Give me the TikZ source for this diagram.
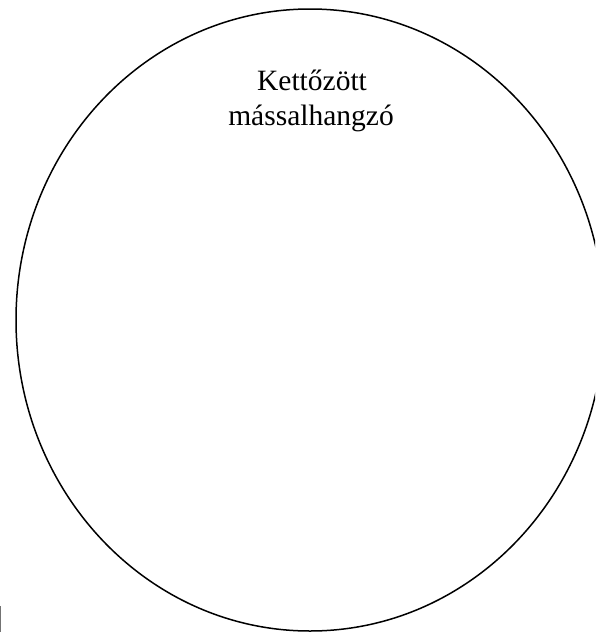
\documentclass[tikz,border=0pt]{standalone}
\usepackage{fontspec}
\setmainfont{Liberation Serif}
\begin{document}
\begin{tikzpicture}[x=1pt,y=1pt,
  outline/.style={draw=black, line width=1.5pt},
  label/.style={font=\fontsize{29.5}{35}\selectfont, inner sep=0pt, anchor=base, text=black},
  edgemark/.style={draw=black!55, line width=1.2pt}]
\useasboundingbox (0,0) rectangle (595,-632);
\begin{scope}
\clip (0,0) rectangle (595,-632);
\draw[outline] (310,-320) ellipse [x radius=294, y radius=311];
\coordinate (m1) at (0.6,-606);
\coordinate (m2) at (0.6,-632);
\draw[edgemark] (m1) -- (m2);
\end{scope}
\node[label] (t1) at (312,-90) {Kettőzött};
\node[label] (t2) at (311,-125) {mássalhangzó};
\end{tikzpicture}
\end{document}
